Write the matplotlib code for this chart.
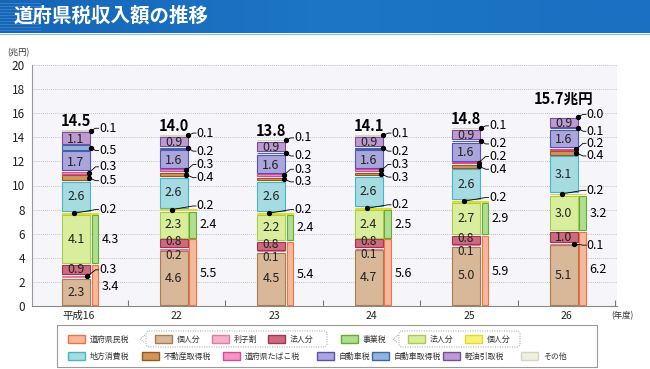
import numpy as np
import matplotlib
matplotlib.use('Agg')
import matplotlib.pyplot as plt
from matplotlib.patches import Rectangle, FancyBboxPatch

plt.rcParams['font.family'] = ['Noto Sans CJK JP', 'DejaVu Sans']

# ---- data (兆円) ----
years = ['平成16', '22', '23', '24', '25', '26']
totals = ['14.5', '14.0', '13.8', '14.1', '14.8', '15.7兆円']

# 道府県民税
kojin = [2.3, 4.6, 4.5, 4.7, 5.0, 5.1]
rishiwari = [0.3, 0.2, 0.1, 0.1, 0.1, 0.1]
hojin = [0.9, 0.8, 0.8, 0.8, 0.8, 1.0]
kenminzei = [3.4, 5.5, 5.4, 5.6, 5.9, 6.2]
# 事業税
jigyo_hojin = [4.1, 2.3, 2.2, 2.4, 2.7, 3.0]
jigyo_kojin = [0.2, 0.2, 0.2, 0.2, 0.2, 0.2]
jigyozei = [4.3, 2.4, 2.4, 2.5, 2.9, 3.2]
# others
shohi = [2.6, 2.6, 2.6, 2.6, 2.6, 3.1]
fudosan = [0.5, 0.4, 0.3, 0.3, 0.4, 0.4]
tabako = [0.3, 0.3, 0.3, 0.3, 0.2, 0.2]
jidosha = [1.7, 1.6, 1.6, 1.6, 1.6, 1.6]
shutoku = [0.5, 0.2, 0.2, 0.2, 0.2, 0.1]
keiyu = [1.1, 0.9, 0.9, 0.9, 0.9, 0.9]
sonota = [0.1, 0.1, 0.1, 0.1, 0.1, 0.0]

# (face, edge)
col = {
    'kenmin': ('#f7b89c', '#ea7448'),
    'kojin': ('#d8b898', '#a97c52'),
    'rishi': ('#f5b0cc', '#e27aa6'),
    'hojin': ('#cc6a80', '#a3344e'),
    'jigyo': ('#b2dc92', '#5fae30'),
    'jhojin': ('#d9ee9c', '#a8cc52'),
    'jkojin': ('#f7f27c', '#e4da2c'),
    'shohi': ('#a6dbe2', '#48b4c4'),
    'fudosan': ('#cf955a', '#94591e'),
    'tabako': ('#f294c4', '#d84898'),
    'jidosha': ('#aaa6dc', '#5850b2'),
    'shutoku': ('#92b4dc', '#3868a8'),
    'keiyu': ('#bc9cd0', '#7a4a9c'),
    'sonota': ('#efefe2', '#d6d6c2'),
}

fig = plt.figure(figsize=(6.5, 3.69), dpi=100)

# overlay in pixel coordinates (banner, legend, labels)
ov = fig.add_axes([0, 0, 1, 1])
ov.axis('off')
grad = np.linspace(0, 1, 256).reshape(1, -1)
cmap = matplotlib.colors.LinearSegmentedColormap.from_list('b', ['#1565b8', '#1d76c6', '#1a70c2'])
ov.imshow(grad, extent=(0, 650, 33, 0), aspect='auto', cmap=cmap)
for yy in range(3, 32, 3):
    ov.plot([0, 40], [yy, yy], color='white', lw=0.6, alpha=0.18)
ov.plot([0, 650], [33.5, 33.5], color='#8fbbe6', lw=0.8)
ov.set_xlim(0, 650)
ov.set_ylim(369, 0)
ov.text(14, 16, '道府県税収入額の推移', color='white', fontsize=14, fontweight='bold', va='center', ha='left')
ov.text(7, 53, '(兆円)', fontsize=6, va='center', ha='left', color='#333333')
ov.text(611, 316, '(年度)', fontsize=6, va='center', ha='left', color='#333333')

# legend
ov.add_patch(Rectangle((57, 325), 540, 42, fill=False, edgecolor='#9a9a9a', lw=0.8))
ov.add_patch(FancyBboxPatch((146, 331), 181, 16, boxstyle='round,pad=0,rounding_size=3',
                            fill=False, edgecolor='#9a9a9a', lw=0.7, ls=(0, (1, 1.5))))
ov.add_patch(FancyBboxPatch((399, 331), 121, 16, boxstyle='round,pad=0,rounding_size=3',
                            fill=False, edgecolor='#9a9a9a', lw=0.7, ls=(0, (1, 1.5))))
for xc in (145, 398):
    ov.plot([xc, xc - 5, xc], [335, 339, 343], color='#9a9a9a', lw=0.7, ls=(0, (1, 1.2)))

legend_items = [
    (68, 339, 'kenmin', '道府県民税'), (155, 339, 'kojin', '個人分'),
    (212, 339, 'rishi', '利子割'), (268, 339, 'hojin', '法人分'),
    (341, 339, 'jigyo', '事業税'), (408, 339, 'jhojin', '法人分'),
    (465, 339, 'jkojin', '個人分'),
    (68, 356, 'shohi', '地方消費税'), (142, 356, 'fudosan', '不動産取得税'),
    (223, 356, 'tabako', '道府県たばこ税'), (317, 356, 'jidosha', '自動車税'),
    (372, 356, 'shutoku', '自動車取得税'), (443, 356, 'keiyu', '軽油引取税'),
    (521, 356, 'sonota', 'その他'),
]
for lx, ly, key, name in legend_items:
    fc, ec = col[key]
    ov.add_patch(Rectangle((lx, ly - 4), 17, 8, facecolor=fc, edgecolor=ec, lw=1.0))
    ov.text(lx + 22, ly, name, fontsize=5.7, va='center', ha='left', color='#333333')

# main chart
ax = fig.add_axes([32 / 650, 63 / 369, 585 / 650, 241 / 369])
ax.set_facecolor('#f6f6fa')
ax.set_xlim(-0.482, 5.518)
ax.set_ylim(0, 20)
ax.set_yticks(range(0, 21, 2))
ax.tick_params(axis='y', length=0, labelsize=8.5, pad=5, labelcolor='#222222')
ax.set_xticks([i + 0.5 for i in range(6)])
ax.set_xticklabels([])
ax.tick_params(axis='x', direction='in', length=4, color='#777777')
ax.grid(axis='y', color='#b0b0b0', lw=0.6, ls=(0, (1, 1.5)))
ax.set_axisbelow(True)
for s in ('top', 'right'):
    ax.spines[s].set_visible(False)
ax.spines['left'].set_color('#999999')
ax.spines['bottom'].set_color('#888888')

main_l, main_w = -0.174, 0.287
side_l, side_w = 0.133, 0.062
mc = main_l + main_w / 2
gap = 0.07
fs = 9


def seg(x0, w, bottom, h, key):
    if h <= 0:
        return
    fc, ec = col[key]
    hh = max(h - 2 * gap, 0.03)
    ax.bar(x0, hh, width=w, bottom=bottom + (h - hh) / 2, align='edge',
           facecolor=fc, edgecolor=ec, lw=0.8, zorder=3)


def leader(i, xd, yd, yl, txt):
    ax.plot([i + xd, i + 0.17, i + 0.20], [yd, yl, yl], color='black', lw=0.6, zorder=5)
    ax.plot(i + xd, yd, 'o', color='black', ms=2.8, zorder=6)
    ax.text(i + 0.205, yl, txt, fontsize=fs, va='center', ha='left', zorder=6)


def inner(i, y, v, size=fs):
    ax.text(i + mc, y, f'{v:.1f}', fontsize=size, ha='center', va='center', zorder=6, color='#222222')


for i in range(len(years)):
    b = 0.0
    squeeze = i not in (0, len(years) - 1)
    # 道府県民税
    seg(i + main_l, main_w, b, kojin[i], 'kojin')
    inner(i, b + kojin[i] / 2, kojin[i])
    b += kojin[i]
    seg(i + main_l, main_w, b, rishiwari[i], 'rishi')
    rc = b + rishiwari[i] / 2
    if i == 0:
        leader(i, 0.08, rc, rc + 0.55, f'{rishiwari[i]:.1f}')
    elif i == len(years) - 1:
        leader(i, 0.08, rc, rc - 0.1, f'{rishiwari[i]:.1f}')
    else:
        inner(i, b - 0.45, rishiwari[i], size=8.5)
    b += rishiwari[i]
    seg(i + main_l, main_w, b, hojin[i], 'hojin')
    inner(i, b + hojin[i] / 2 + (0.12 if squeeze else 0), hojin[i], size=8.5 if squeeze else fs)
    b += hojin[i]
    seg(i + side_l, side_w, 0, b, 'kenmin')
    ax.text(i + 0.235, b / 2 - 0.1, f'{kenminzei[i]:.1f}', fontsize=fs, va='center', ha='left')
    # 事業税
    j0 = b
    seg(i + main_l, main_w, b, jigyo_hojin[i], 'jhojin')
    inner(i, b + jigyo_hojin[i] / 2, jigyo_hojin[i])
    b += jigyo_hojin[i]
    seg(i + side_l, side_w, j0, b - j0, 'jigyo')
    ax.text(i + 0.235, (j0 + b) / 2, f'{jigyozei[i]:.1f}', fontsize=fs, va='center', ha='left')
    seg(i + main_l, side_l + side_w - main_l, b, jigyo_kojin[i], 'jkojin')
    c = b + jigyo_kojin[i] / 2
    leader(i, -0.05, c, c + 0.3, f'{jigyo_kojin[i]:.1f}')
    b += jigyo_kojin[i]
    # 地方消費税
    seg(i + main_l, main_w, b, shohi[i], 'shohi')
    inner(i, b + shohi[i] / 2, shohi[i])
    b += shohi[i]
    # 不動産取得税
    seg(i + main_l, main_w, b, fudosan[i], 'fudosan')
    c = b + fudosan[i] / 2
    leader(i, 0.10, c, c - 0.25, f'{fudosan[i]:.1f}')
    b += fudosan[i]
    # たばこ税
    seg(i + main_l, main_w, b, tabako[i], 'tabako')
    c = b + tabako[i] / 2
    leader(i, 0.10, c, c + 0.5, f'{tabako[i]:.1f}')
    b += tabako[i]
    # 自動車税
    seg(i + main_l, main_w, b, jidosha[i], 'jidosha')
    inner(i, b + jidosha[i] / 2 - 0.1, jidosha[i])
    b += jidosha[i]
    # 自動車取得税
    seg(i + main_l, main_w, b, shutoku[i], 'shutoku')
    c = b + shutoku[i] / 2
    leader(i, 0.12, c, c - 0.25, f'{shutoku[i]:.1f}')
    b += shutoku[i]
    # 軽油引取税
    seg(i + main_l, main_w, b, keiyu[i], 'keiyu')
    inner(i, b + keiyu[i] / 2 - 0.1, keiyu[i])
    b += keiyu[i]
    # その他
    seg(i + main_l, main_w, b, sonota[i], 'sonota')
    c = b + sonota[i] / 2
    leader(i, 0.12, c, c + 0.2, f'{sonota[i]:.1f}')
    b += sonota[i]
    # total
    ty = b + (1.5 if i == len(years) - 1 else 0.75)
    ax.text(i + mc, ty, totals[i], fontsize=10.5, fontweight='bold', ha='center', va='center', zorder=6)
    # year label
    ax.text(i, -0.85, years[i], fontsize=7.5, ha='center', va='center', color='#222222')

fig.savefig('out.png', dpi=100)
